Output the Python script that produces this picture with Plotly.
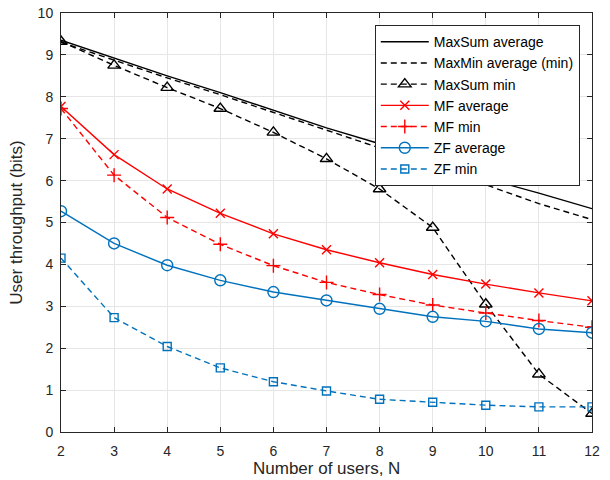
import plotly.graph_objects as go

# Number of users
users = [2, 3, 4, 5, 6, 7, 8, 9, 10, 11, 12]

# Throughput series (bits)
maxsum_avg = [9.35, 8.92, 8.50, 8.10, 7.68, 7.26, 6.88, 6.47, 6.05, 5.70, 5.33]
maxmin_avg = [9.30, 8.87, 8.45, 8.05, 7.63, 7.20, 6.78, 6.35, 5.90, 5.45, 5.07]
maxsum_min = [9.32, 8.75, 8.22, 7.72, 7.15, 6.52, 5.80, 4.88, 3.05, 1.38, 0.44]
mf_avg = [7.77, 6.62, 5.80, 5.22, 4.73, 4.35, 4.04, 3.76, 3.53, 3.32, 3.13]
mf_min = [7.72, 6.13, 5.12, 4.48, 3.97, 3.57, 3.28, 3.03, 2.84, 2.66, 2.50]
zf_avg = [5.27, 4.50, 3.98, 3.62, 3.34, 3.14, 2.94, 2.75, 2.64, 2.46, 2.37]
zf_min = [4.15, 2.73, 2.04, 1.53, 1.20, 0.98, 0.78, 0.71, 0.64, 0.60, 0.60]

BLUE = "#0072BD"
RED = "#FF0000"
BLACK = "#000000"
FONT = "Liberation Sans, Arial, Helvetica, sans-serif"

series = [
    ("MaxSum average", maxsum_avg, BLACK, "solid", None, 9),
    ("MaxMin average (min)", maxmin_avg, BLACK, "dash", None, 9),
    ("MaxSum min", maxsum_min, BLACK, "dash", "triangle-up-open", 11),
    ("MF average", mf_avg, RED, "solid", "x-thin-open", 9),
    ("MF min", mf_min, RED, "dash", "cross-thin-open", 10),
    ("ZF average", zf_avg, BLUE, "solid", "circle-open", 11),
    ("ZF min", zf_min, BLUE, "dash", "square-open", 8),
]

fig = go.Figure()
for name, ys, color, dash, sym, size in series:
    mode = "lines+markers" if sym else "lines"
    fig.add_trace(go.Scatter(
        x=users, y=ys, name=name, mode=mode,
        line=dict(color=color, width=1.4, dash="6px,4px" if dash == "dash" else "solid"),
        marker=dict(symbol=sym or "circle", size=size,
                    line=dict(color=color, width=1.4), color=color),
    ))

axis_common = dict(
    showline=True, linecolor="#262626", linewidth=1, mirror="ticks",
    ticks="inside", ticklen=5, tickcolor="#262626",
    showgrid=True, gridcolor="#e6e6e6", gridwidth=1,
    zeroline=False, automargin=False,
    tickfont=dict(family=FONT, size=14, color="#262626"),
)

fig.update_xaxes(range=[2, 12], tickmode="array", tickvals=users,
                 ticklabelstandoff=6, **axis_common)
fig.update_yaxes(range=[0, 10], tickmode="array", tickvals=list(range(0, 11)),
                 ticklabelstandoff=4,
                 title=dict(text="User throughput (bits)", standoff=10,
                            font=dict(family=FONT, size=17, color="#262626")),
                 **axis_common)

# x-axis title placed below the tick labels
fig.add_annotation(
    text="Number of users, N", xref="paper", yref="paper",
    x=0.5, y=-0.087, xanchor="center", yanchor="middle", showarrow=False,
    font=dict(family=FONT, size=17, color="#262626"),
)

fig.update_layout(
    width=610, height=480,
    margin=dict(l=61, r=18, t=13, b=48),
    paper_bgcolor="white", plot_bgcolor="white",
    showlegend=True,
    legend=dict(
        x=0.977, y=0.971, xanchor="right", yanchor="top",
        bgcolor="white", bordercolor="#262626", borderwidth=1,
        font=dict(family=FONT, size=14, color="#000000"),
        itemwidth=48, tracegroupgap=0,
    ),
)

fig.write_html("out.html")
